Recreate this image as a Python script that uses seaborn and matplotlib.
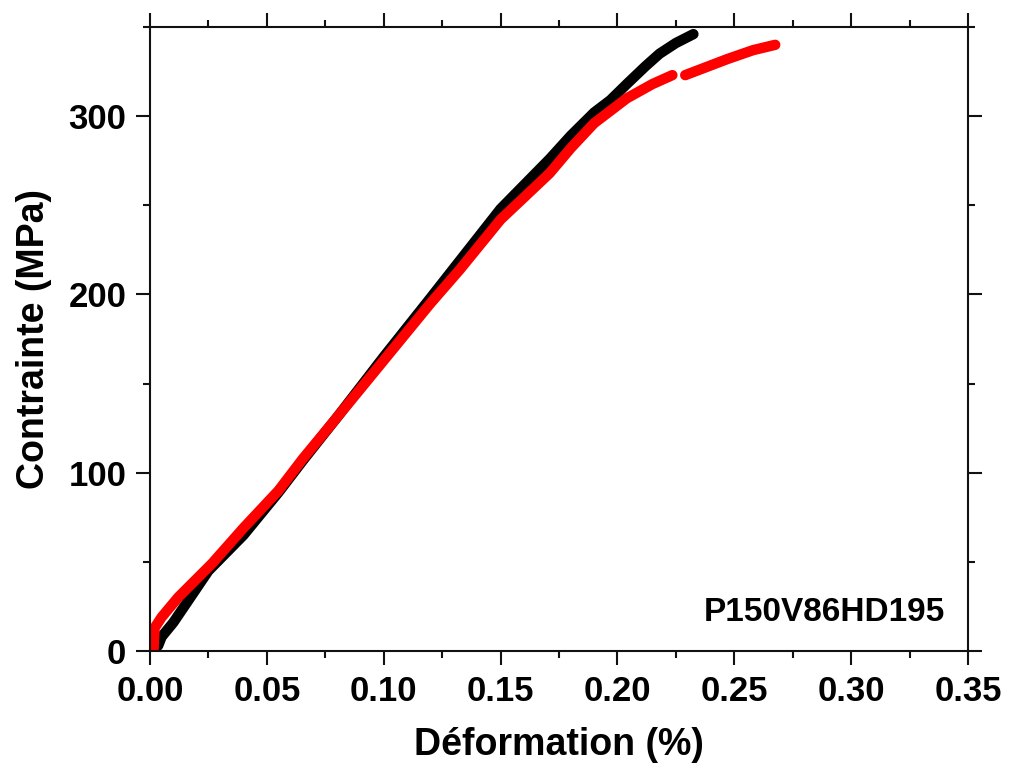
import matplotlib
matplotlib.use("Agg")
import matplotlib.pyplot as plt
import pandas as pd
import seaborn as sns
from matplotlib.ticker import MultipleLocator

sns.set_theme(style="ticks")
plt.rcParams["font.family"] = ["Liberation Sans", "DejaVu Sans"]
plt.rcParams["font.weight"] = "bold"
plt.rcParams["text.color"] = "black"
plt.rcParams["axes.labelcolor"] = "black"
plt.rcParams["xtick.color"] = "black"
plt.rcParams["ytick.color"] = "black"

# courbe noire
black_strain = [0.0035, 0.005, 0.010, 0.025, 0.040, 0.055, 0.0655, 0.080, 0.100, 0.120,
                0.1314, 0.150, 0.171, 0.180, 0.190, 0.197, 0.204, 0.212, 0.218, 0.225, 0.2325]
black_stress = [3, 8, 16, 45, 65, 89, 107, 131, 165, 198,
                217, 248, 276, 289, 302, 309, 318, 328, 335, 341, 346]

# courbe rouge (deux morceaux, coupure vers 0.225)
red_strain_a = [0.0015, 0.0018, 0.002, 0.005, 0.012, 0.0265, 0.040, 0.055, 0.0655, 0.080,
                0.100, 0.120, 0.1326, 0.150, 0.171, 0.180, 0.190, 0.204, 0.215, 0.2235]
red_stress_a = [0, 8, 13, 19, 30, 49, 69, 90, 108, 131,
                163, 195, 214, 242, 268, 282, 296, 310, 318, 323]
red_strain_b = [0.229, 0.237, 0.247, 0.258, 0.2675]
red_stress_b = [323, 327, 332, 337, 340]

sample_label = "P150V86HD195"
x_ticks = [0.00, 0.05, 0.10, 0.15, 0.20, 0.25, 0.30, 0.35]
y_ticks = [0, 100, 200, 300]

fig = plt.figure(figsize=(10.16, 7.69), dpi=100)
ax = fig.add_axes([0.1476, 0.1534, 0.8052, 0.8115])

segments = [
    (black_strain, black_stress, "#000000"),
    (red_strain_a, red_stress_a, "#ff0000"),
    (red_strain_b, red_stress_b, "#ff0000"),
]
for xs, ys, color in segments:
    df = pd.DataFrame({"strain": xs, "stress": ys})
    sns.lineplot(data=df, x="strain", y="stress", color=color, linewidth=7.5,
                 sort=False, estimator=None, ax=ax, solid_capstyle="round")

ax.set_xlim(0, 0.35)
ax.set_ylim(0, 350)
ax.set_xticks(x_ticks)
ax.set_yticks(y_ticks)
ax.set_xticklabels([f"{t:.2f}" for t in x_ticks])
ax.xaxis.set_minor_locator(MultipleLocator(0.025))
ax.yaxis.set_minor_locator(MultipleLocator(50))

for side in ["top", "right", "bottom", "left"]:
    ax.spines[side].set_visible(True)
    ax.spines[side].set_linewidth(1.5)
    ax.spines[side].set_color("#111111")

ax.tick_params(which="major", direction="out", length=10, width=1.5, color="#111111",
               top=True, right=True, labelsize=25, pad=7)
ax.tick_params(which="minor", direction="out", length=5, width=1.5, color="#111111",
               top=True, right=True)
for lab in ax.get_xticklabels() + ax.get_yticklabels():
    lab.set_fontweight("bold")

ax.set_xlabel("Déformation (%)", fontsize=27, fontweight="bold", labelpad=14)
ax.set_ylabel("Contrainte (MPa)", fontsize=27, fontweight="bold", labelpad=12)
ax.text(0.972, 0.062, sample_label, transform=ax.transAxes, ha="right", va="center",
        fontsize=24, fontweight="bold")

fig.savefig("out.png", dpi=100)
